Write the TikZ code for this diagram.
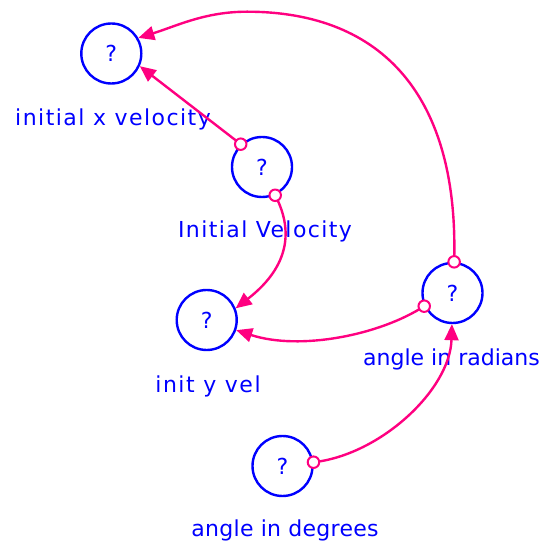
\documentclass[tikz,border=0pt]{standalone}
\usepackage{fontspec}
\setmainfont{DejaVu Sans}
\usetikzlibrary{arrows.meta}
\definecolor{nodeblue}{RGB}{0,0,255}
\definecolor{linkpink}{RGB}{255,0,128}
\newcommand{\spaced}[2]{{\addfontfeatures{LetterSpace=#1}#2}}
\begin{document}
\begin{tikzpicture}[x=1pt,y=1pt,
  var/.style={circle,draw=nodeblue,line width=2.4pt,minimum size=60pt,inner sep=0pt,
    text=nodeblue,font=\fontsize{22}{24}\selectfont},
  lbl/.style={anchor=base,text=nodeblue,font=\fontsize{22}{24}\selectfont,inner sep=0pt},
  link/.style={draw=linkpink,line width=2.4pt,-{Triangle[length=16pt,width=14pt]}},
  tail/.style={circle,draw=linkpink,fill=white,line width=2pt,minimum size=11.5pt,inner sep=0pt}]
\useasboundingbox (0,0) rectangle (540,544);
\node[var] (xv) at (111.3,490.5) {\raisebox{-4pt}{?}};
\node[var] (iv) at (262,377) {\raisebox{-4pt}{?}};
\node[var] (iyv) at (206.7,224) {\raisebox{-4pt}{?}};
\node[var] (rad) at (452.5,251) {\raisebox{-4pt}{?}};
\node[var] (deg) at (282.5,78) {\raisebox{-4pt}{?}};
\node[lbl] (xvl) at (113,418) {\spaced{6.7}{initial x velocity}};
\node[lbl] (ivl) at (265,306) {\spaced{6.4}{Initial Velocity}};
\node[lbl] (iyvl) at (208,151) {\spaced{7}{init y vel}};
\node[lbl] (radl) at (451.5,178) {angle in radians};
\node[lbl] (degl) at (285,7) {\spaced{1.2}{angle in degrees}};
% connectors
\draw[link] (iv.133) -- (xv.-24);
\draw[link] (iv.-65) .. controls (296,309) and (285,274) .. (iyv.22);
\draw[link] (rad.87) .. controls (459,446) and (384,532.3) .. (247,532.3)
  .. controls (205,532.3) and (176.7,518) .. (xv.30);
\draw[link] (rad.205) .. controls (380,209) and (300,193) .. (iyv.-19);
\draw[link] (deg.7) .. controls (380,89) and (450,154) .. (rad.-91);
% tail markers
\node[tail] (t1) at (iv.133) {};
\node[tail] (t2) at (iv.-65) {};
\node[tail] (t3) at (rad.87) {};
\node[tail] (t4) at (rad.205) {};
\node[tail] (t5) at (deg.7) {};
\end{tikzpicture}
\end{document}
